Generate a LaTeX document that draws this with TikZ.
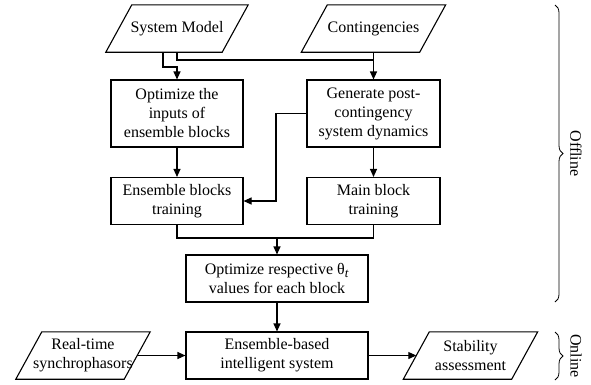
\documentclass[tikz,border=0pt]{standalone}
\usepackage{fontspec}
\setmainfont{Liberation Serif}
\usetikzlibrary{arrows.meta,decorations.pathreplacing,calc}
\begin{document}
\begin{tikzpicture}[x=1pt,y=-1pt,
  font=\fontsize{16}{19}\selectfont,
  box/.style={draw,line width=1.1pt,align=center,inner sep=0pt},
  para/.style={align=center,inner sep=0pt,minimum height=47pt},
  ln/.style={line width=1.1pt},
  arr/.style={line width=1.1pt,-{Triangle[length=8pt,width=7pt]}},
  brc/.style={decorate,decoration={brace,amplitude=8pt},line width=0.8pt}]
\useasboundingbox (0,0) rectangle (591,384);
% inputs
\node[para,minimum width=116pt] (sys) at (177,28.5) {System Model};
\node[para,minimum width=118pt] (cont) at (373.5,28.5) {Contingencies};
% offline boxes
\node[box,minimum width=132pt,minimum height=67pt] (opt) at (177,113.5) {Optimize the\\inputs of\\ensemble blocks};
\node[box,minimum width=133pt,minimum height=67pt] (gen) at (373.5,113.5) {Generate post-\\contingency\\system dynamics};
\node[box,minimum width=132pt,minimum height=47pt] (ebt) at (177,201) {Ensemble blocks\\training};
\node[box,minimum width=133pt,minimum height=47pt] (mbt) at (373.5,201) {Main block\\training};
\node[box,minimum width=182pt,minimum height=47pt] (theta) at (277,278.5) {Optimize respective θ\textsubscript{\fontsize{13}{13}\selectfont\textit{t}}\\values for each block};
% online
\node[box,minimum width=182pt,minimum height=47pt] (ens) at (277,355.5) {Ensemble-based\\intelligent system};
\node[para,minimum width=108pt] (rt) at (83,355.5) {Real-time\\synchrophasors};
\node[para,minimum width=108pt] (stab) at (470.5,355.5) {Stability\\assessment};
% parallelograms
\foreach \n in {sys,cont,rt,stab}{
  \draw[ln] ([xshift=-13pt]\n.south west) -- ([xshift=13pt]\n.north west)
    -- ([xshift=13pt]\n.north east) -- ([xshift=-13pt]\n.south east) -- cycle;
}
% connectors
\coordinate (sysL) at ([xshift=-14pt]sys.south);
\draw[arr] (sysL) -- (sysL |- 0,67) -- (opt.north |- 0,67) -- (opt.north);
\draw[ln] (sys.south) -- (sys.south |- 0,60) -- (gen.north |- 0,60);
\draw[arr] (cont.south) -- (gen.north);
\draw[arr] (opt.south) -- (ebt.north);
\draw[arr] (gen.south) -- (mbt.north);
\draw[arr] (gen.west) -- (276,113.5) -- (276,201) -- (ebt.east);
\coordinate (mrg) at (theta.north |- 0,238);
\draw[ln] (ebt.south) -- (ebt.south |- mrg) -- (mrg);
\draw[ln] (mbt.south) -- (mbt.south |- mrg) -- (mrg);
\draw[arr] (mrg) -- (theta.north);
\draw[arr] (theta.south) -- (ens.north);
\draw[arr] (rt.east) -- (ens.west);
\draw[arr] (ens.east) -- (stab.west);
% braces
\coordinate (b1t) at (555,5);
\coordinate (b1b) at (555,302);
\coordinate (b2t) at (555,332);
\coordinate (b2b) at (555,380);
\draw[brc] (b1t) -- (b1b);
\draw[brc] (b2t) -- (b2b);
\node[rotate=-90] (off) at (576,153.5) {Offline};
\node[rotate=-90] (on) at (576,356) {Online};
\end{tikzpicture}
\end{document}
